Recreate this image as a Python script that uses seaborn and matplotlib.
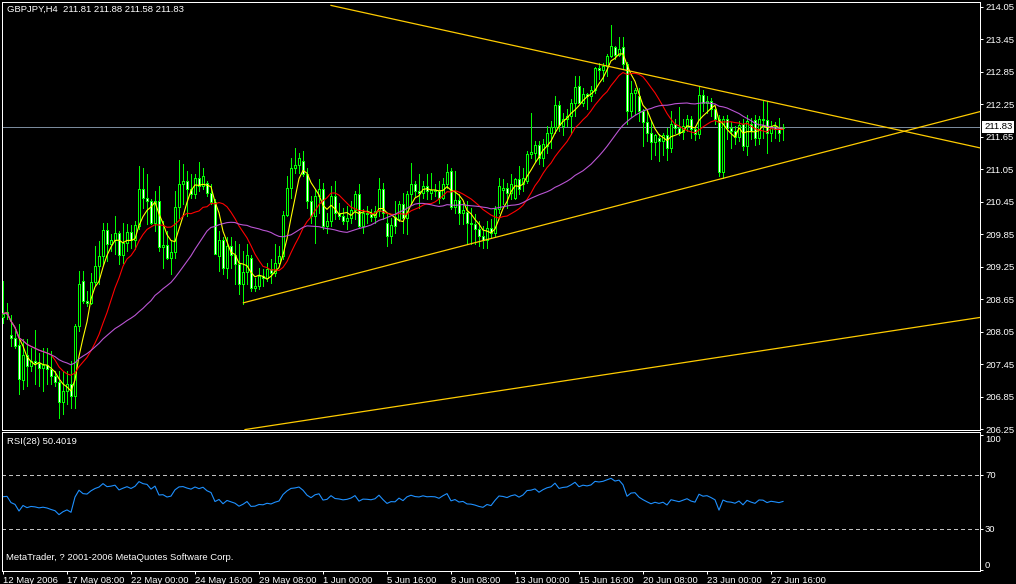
import numpy as np
import pandas as pd
import seaborn as sns
import matplotlib.pyplot as plt
import matplotlib.transforms as mtrans

# GBPJPY H4 bars (12 May - 27 Jun 2006)
opens = [208.32, 208.38, 207.99, 207.93, 207.80, 207.16, 207.62, 207.41, 207.51, 207.47,
         207.38, 207.43, 207.36, 207.23, 207.12, 206.75, 206.95, 207.08, 206.86, 208.15,
         208.99, 208.62, 208.58, 208.97, 209.26, 209.45, 209.93, 209.67, 209.74, 209.87,
         209.47, 209.69, 209.89, 209.74, 210.00, 210.69, 210.52, 210.46, 210.06, 210.46,
         209.61, 209.65, 209.41, 209.52, 210.35, 210.78, 210.83, 210.69, 210.59, 210.89,
         210.74, 210.80, 210.61, 210.44, 209.45, 209.74, 209.23, 209.63, 209.47, 209.30,
         208.93, 209.15, 209.40, 208.86, 208.89, 209.08, 209.04, 209.21, 209.13, 209.32,
         209.45, 210.21, 210.70, 211.06, 211.13, 211.20, 210.96, 210.46, 210.19, 210.56,
         210.69, 210.00, 210.09, 210.56, 210.24, 210.19, 210.09, 210.15, 210.30, 210.59,
         210.00, 210.24, 210.22, 210.17, 210.28, 210.69, 210.06, 209.82, 210.17, 210.13,
         210.41, 210.15, 210.59, 210.78, 210.65, 210.61, 210.74, 210.61, 210.67, 210.65,
         210.52, 210.78, 211.02, 210.35, 210.48, 210.24, 210.26, 210.06, 210.04, 209.95,
         209.82, 209.74, 209.97, 209.87, 210.32, 210.67, 210.70, 210.61, 210.52, 210.87,
         210.78, 210.83, 211.33, 211.35, 211.50, 211.26, 211.48, 211.72, 211.83, 212.24,
         211.85, 211.98, 212.03, 212.26, 212.59, 212.26, 212.44, 212.39, 212.50, 212.92,
         212.87, 212.96, 213.14, 213.31, 213.16, 213.31, 212.98, 212.13, 212.46, 212.39,
         212.13, 211.91, 211.72, 211.54, 211.63, 211.57, 211.67, 211.43, 211.89, 211.80,
         211.74, 211.85, 211.98, 211.79, 211.70, 212.42, 212.26, 212.31, 212.16, 211.98,
         211.00, 211.98, 211.80, 211.76, 211.65, 211.89, 211.48, 211.89, 211.95, 211.63,
         211.98, 211.96, 211.72, 211.85, 211.79, 211.81]
highs = [208.99, 208.58, 208.36, 208.06, 208.19, 207.91, 207.91, 207.75, 208.08, 207.65,
         207.75, 207.75, 207.69, 207.32, 207.32, 207.32, 207.32, 207.51, 208.19, 209.17,
         209.17, 208.80, 209.13, 209.63, 209.72, 210.06, 210.06, 209.85, 210.19, 209.91,
         210.06, 210.04, 210.02, 210.09, 211.11, 211.07, 210.96, 210.50, 210.65, 210.74,
         210.09, 209.91, 209.72, 210.65, 211.22, 211.15, 211.02, 210.96, 210.96, 211.18,
         211.07, 210.83, 210.78, 210.50, 209.91, 209.80, 209.80, 209.80, 209.72, 209.67,
         209.54, 209.67, 209.47, 209.04, 209.23, 209.21, 209.32, 209.39, 209.67, 209.63,
         210.28, 210.93, 211.26, 211.44, 211.35, 211.39, 211.06, 210.56, 210.69, 210.87,
         210.80, 210.24, 210.74, 210.83, 210.43, 210.33, 210.37, 210.46, 210.65, 210.78,
         210.32, 210.37, 210.32, 210.37, 210.89, 210.80, 210.22, 210.15, 210.46, 210.46,
         210.61, 210.65, 211.17, 210.83, 210.96, 210.83, 210.96, 210.98, 210.78, 210.83,
         210.89, 211.15, 211.07, 211.02, 210.59, 210.43, 210.46, 210.33, 210.22, 210.09,
         210.00, 210.09, 210.13, 210.37, 210.89, 210.87, 210.80, 210.96, 210.89, 211.11,
         211.06, 211.39, 212.09, 211.57, 211.57, 211.61, 211.85, 211.94, 212.40, 212.31,
         212.09, 212.16, 212.35, 212.77, 212.77, 212.55, 212.46, 212.59, 212.94, 213.00,
         213.01, 213.18, 213.70, 213.33, 213.48, 213.48, 213.03, 212.68, 212.55, 212.55,
         212.16, 212.13, 211.94, 211.70, 211.70, 211.72, 211.81, 212.13, 211.98, 212.20,
         211.98, 212.05, 212.03, 211.85, 212.59, 212.50, 212.40, 212.37, 212.20, 212.05,
         212.03, 212.05, 211.91, 211.85, 211.94, 211.98, 212.05, 212.00, 212.05, 212.03,
         212.31, 212.31, 211.94, 211.91, 212.00, 211.88]
lows = [208.21, 208.28, 207.78, 207.75, 206.90, 206.99, 207.05, 207.32, 207.08, 207.05,
        206.95, 207.08, 207.08, 207.05, 206.45, 206.53, 206.71, 206.64, 206.64, 208.06,
        208.58, 208.52, 208.56, 208.91, 208.93, 209.30, 209.36, 209.54, 209.49, 209.30,
        209.32, 209.54, 209.60, 209.58, 209.95, 210.33, 210.04, 210.04, 209.91, 209.54,
        209.23, 209.39, 209.11, 209.41, 210.15, 210.41, 210.19, 210.52, 210.52, 210.65,
        210.69, 210.56, 210.41, 209.49, 209.17, 209.11, 209.04, 209.23, 208.93, 208.75,
        208.56, 208.93, 208.80, 208.80, 208.84, 208.89, 208.99, 208.95, 209.08, 209.26,
        209.39, 210.19, 210.52, 210.98, 210.98, 210.93, 210.33, 210.06, 209.69, 210.24,
        209.95, 209.87, 210.00, 210.13, 210.13, 210.04, 209.95, 210.06, 210.13, 209.97,
        209.87, 210.06, 210.09, 210.06, 210.19, 210.13, 209.63, 209.69, 209.87, 210.09,
        209.87, 209.85, 210.41, 210.56, 210.33, 210.52, 210.50, 210.50, 210.56, 210.43,
        210.50, 210.70, 210.32, 210.24, 210.04, 210.04, 209.67, 209.67, 209.67, 209.63,
        209.60, 209.60, 209.78, 209.82, 210.24, 210.41, 210.33, 210.50, 210.50, 210.59,
        210.65, 210.80, 211.26, 211.20, 211.15, 211.11, 211.35, 211.44, 211.72, 211.76,
        211.67, 211.85, 211.70, 212.03, 212.26, 212.22, 212.16, 212.31, 212.46, 212.72,
        212.68, 212.77, 213.11, 213.09, 213.13, 212.90, 211.89, 212.03, 212.07, 211.94,
        211.48, 211.57, 211.24, 211.30, 211.20, 211.30, 211.22, 211.37, 211.72, 211.67,
        211.61, 211.76, 211.63, 211.59, 211.63, 212.13, 212.09, 212.03, 211.89, 210.93,
        210.89, 211.61, 211.44, 211.52, 211.57, 211.41, 211.30, 211.61, 211.50, 211.52,
        211.63, 211.35, 211.57, 211.63, 211.57, 211.58]
closes = [208.38, 208.41, 207.93, 207.78, 207.17, 207.62, 207.41, 207.51, 207.47, 207.38,
          207.43, 207.36, 207.23, 207.12, 206.75, 206.95, 207.08, 206.86, 208.15, 208.93,
          208.62, 208.58, 208.97, 209.26, 209.45, 209.93, 209.67, 209.74, 209.87, 209.47,
          209.69, 209.89, 209.74, 210.02, 210.69, 210.52, 210.46, 210.06, 210.46, 209.61,
          209.65, 209.41, 209.52, 210.35, 210.78, 210.83, 210.69, 210.59, 210.89, 210.74,
          210.93, 210.61, 210.44, 209.49, 209.74, 209.23, 209.63, 209.47, 209.30, 208.93,
          209.15, 209.47, 208.86, 208.89, 209.08, 209.04, 209.21, 209.13, 209.32, 209.45,
          210.21, 210.70, 211.06, 211.13, 211.26, 210.96, 210.46, 210.19, 210.56, 210.69,
          210.00, 210.09, 210.56, 210.24, 210.19, 210.09, 210.15, 210.30, 210.59, 210.00,
          210.24, 210.22, 210.17, 210.28, 210.69, 210.24, 209.82, 210.02, 210.00, 210.41,
          210.15, 210.59, 210.78, 210.65, 210.61, 210.74, 210.65, 210.67, 210.65, 210.52,
          210.78, 211.00, 210.35, 210.48, 210.24, 210.30, 210.06, 210.04, 209.95, 209.82,
          209.74, 209.97, 209.87, 210.32, 210.74, 210.70, 210.61, 210.78, 210.87, 210.69,
          210.89, 211.33, 211.37, 211.50, 211.26, 211.52, 211.72, 211.83, 212.24, 211.87,
          211.98, 212.03, 212.26, 212.57, 212.26, 212.44, 212.39, 212.50, 212.92, 212.88,
          212.96, 213.14, 213.33, 213.16, 213.27, 212.98, 212.13, 212.46, 212.50, 212.13,
          211.91, 211.72, 211.54, 211.67, 211.57, 211.67, 211.43, 211.89, 211.80, 211.72,
          211.85, 211.98, 211.79, 211.70, 212.42, 212.26, 212.31, 212.16, 211.98, 211.00,
          211.98, 211.80, 211.76, 211.65, 211.87, 211.48, 211.94, 211.76, 211.63, 211.98,
          211.96, 211.72, 211.85, 211.79, 211.72, 211.83]

date_ticks = [0, 16, 32, 48, 64, 80, 96, 112, 128, 144, 160, 176, 192]
date_labels = ["12 May 2006", "17 May 08:00", "22 May 00:00", "24 May 16:00",
               "29 May 08:00", "1 Jun 00:00", "5 Jun 16:00", "8 Jun 08:00",
               "13 Jun 00:00", "15 Jun 16:00", "20 Jun 08:00", "23 Jun 00:00",
               "27 Jun 16:00"]
price_ticks = [214.05, 213.45, 212.85, 212.25, 211.65, 211.05, 210.45, 209.85,
               209.25, 208.65, 208.05, 207.45, 206.85, 206.25]
rsi_ticks = [100, 70, 30, 0]

# trend lines as drawn on the chart: (bar, price) anchor pairs
trend_lines = [((82.0, 214.07), (244.25, 211.44)),
               ((60.1, 208.58), (244.25, 212.11)),
               ((60.5, 206.24), (244.25, 208.31))]
bid = 211.83
ma_periods = [5, 13, 34]
rsi_period = 28
rsi_seed = (0.11, 0.094)   # avg gain / loss carried in from before the first bar

W, H = 1016, 584
FONT = "Liberation Sans"
FS = 6.8
LIME = "#00FF00"
PX = 0.72  # one pixel in points

bars = np.arange(len(closes))
df = pd.DataFrame({"bar": bars, "open": opens, "high": highs, "low": lows, "close": closes})
for n in ma_periods:
    df[f"ma{n}"] = df["close"].rolling(n, min_periods=1).mean()

g, l = rsi_seed
rsi = []
for d in df["close"].diff().fillna(0):
    g = (g * (rsi_period - 1) + max(d, 0)) / rsi_period
    l = (l * (rsi_period - 1) + max(-d, 0)) / rsi_period
    rsi.append(100 * g / (g + l))
df["rsi"] = rsi

fig = plt.figure(figsize=(W / 100, H / 100), dpi=100, facecolor="black")
ax = fig.add_axes([2 / W, 1 - 430 / H, 978 / W, 428 / H], facecolor="black")
ax2 = fig.add_axes([2 / W, 1 - 571 / H, 978 / W, 139 / H], facecolor="black", sharex=ax)

# price pane
ax.axhline(bid, color="#7A8A9C", lw=PX, zorder=1, antialiased=False)
ax.vlines(df["bar"], df["low"], df["high"], colors=LIME, lw=PX, zorder=2, antialiased=False)
fill = np.where(df["close"] >= df["open"], "black", "white")
ax.bar(df["bar"], df["close"] - df["open"], bottom=df["open"], width=0.5,
       color=fill, edgecolor=LIME, linewidth=PX, zorder=3, antialiased=False)
for col, c in zip([f"ma{n}" for n in ma_periods], ["yellow", "red", "#BA55D3"]):
    sns.lineplot(data=df, x="bar", y=col, color=c, lw=0.8, ax=ax, legend=False, zorder=4)
for (x0, y0), (x1, y1) in trend_lines:
    ax.plot([x0, x1], [y0, y1], color="#FFCC00", lw=0.9, zorder=5)

ax.set_xlim(-0.25, 244.25)
ax.set_ylim(214.05 - (430 - 6.5) / 54.17, 214.05 + 4.5 / 54.17)
ax.yaxis.tick_right()
ax.set_yticks(price_ticks)
ax.set_yticklabels([f"{t:.2f}" for t in price_ticks])
ax.tick_params(axis="y", colors="white", labelsize=FS, length=3 * PX, width=PX, pad=2 * PX)
ax.tick_params(axis="x", bottom=False, labelbottom=False)
for lbl in ax.get_yticklabels():
    lbl.set_fontfamily(FONT)
ax.set_xlabel("")
ax.set_ylabel("")
tr = mtrans.blended_transform_factory(ax.transAxes, ax.transData) + \
    mtrans.ScaledTranslation(4 / 100, 0, fig.dpi_scale_trans)
ax.text(1.0, bid, f"{bid:.2f}", transform=tr, ha="left", va="center", fontsize=FS,
        family=FONT, color="black", bbox=dict(facecolor="white", edgecolor="none", pad=1.2))

# RSI pane
ax2.axhline(70, color="#C0C0C0", lw=PX, ls=(0, (3, 3)), antialiased=False)
ax2.axhline(30, color="#C0C0C0", lw=PX, ls=(0, (3, 3)), antialiased=False)
sns.lineplot(data=df, x="bar", y="rsi", color="#1E90FF", lw=0.8, ax=ax2, legend=False)
ax2.set_ylim(70 - (571 - 475) / 1.35, 70 + (475 - 432) / 1.35)
ax2.yaxis.tick_right()
ax2.set_yticks(rsi_ticks)
ax2.set_yticklabels([str(t) for t in rsi_ticks])
ax2.tick_params(axis="y", colors="white", labelsize=FS, length=3 * PX, width=PX, pad=2 * PX)
ylabs = ax2.get_yticklabels()
ylabs[0].set_va("top")
ylabs[-1].set_va("bottom")
for lbl in ylabs:
    lbl.set_fontfamily(FONT)
ax2.set_xticks(date_ticks)
ax2.set_xticklabels(date_labels)
ax2.tick_params(axis="x", colors="white", labelsize=FS, length=3 * PX, width=PX, pad=2 * PX)
for lbl in ax2.get_xticklabels():
    lbl.set_ha("left")
    lbl.set_fontfamily(FONT)
ax2.set_xlabel("")
ax2.set_ylabel("")

for a in (ax, ax2):
    for s in a.spines.values():
        s.set_color("white")
        s.set_linewidth(PX)

fig.text(7 / W, 1 - 5 / H, "GBPJPY,H4  211.81 211.88 211.58 211.83", color="white",
         fontsize=FS, family=FONT, ha="left", va="top")
fig.text(7 / W, 1 - 437 / H, "RSI(28) 50.4019", color="white", fontsize=FS,
         family=FONT, ha="left", va="top")
fig.text(6 / W, 1 - 553 / H, "MetaTrader, ? 2001-2006 MetaQuotes Software Corp.",
         color="white", fontsize=FS, family=FONT, ha="left", va="top")

fig.savefig("out.png", dpi=100, facecolor="black")
